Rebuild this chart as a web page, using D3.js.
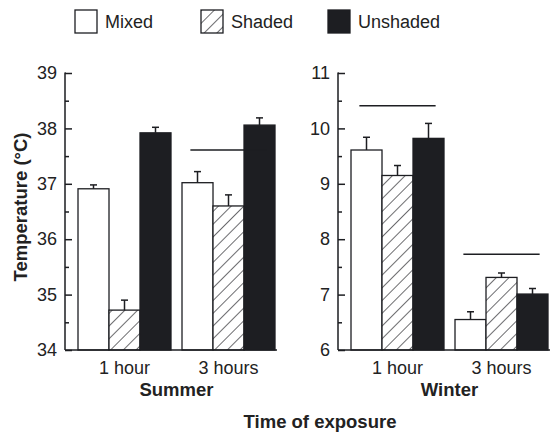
<!DOCTYPE html>
<html>
<head>
<meta charset="utf-8">
<script src="https://cdn.jsdelivr.net/npm/d3@7"></script>
<style>
  body { margin: 0; background: #fff; }
  text { font-family: "Liberation Sans", Arial, sans-serif; fill: #222; }
</style>
</head>
<body>
<svg width="550" height="432"></svg>
<script>
const series = ['Mixed', 'Shaded', 'Unshaded'];
const groups = ['1 hour', '3 hours'];

// mean values and upper error, per group, in series order
const summerValues = [[36.91, 34.72, 37.92], [37.02, 36.6, 38.06]];
const summerErrors = [[0.07, 0.18, 0.1], [0.2, 0.2, 0.13]];
const winterValues = [[9.61, 9.15, 9.82], [6.55, 7.31, 7.01]];
const winterErrors = [[0.23, 0.18, 0.27], [0.14, 0.08, 0.1]];

const summerTicks = [34, 35, 36, 37, 38, 39];
const winterTicks = [6, 7, 8, 9, 10, 11];

// horizontal marker lines: [group, value]
const summerLines = [['3 hours', 37.61]];
const winterLines = [['1 hour', 10.41], ['3 hours', 7.73]];

const ink = '#1d1e22';
const svg = d3.select('svg');

// hatch pattern for shaded
const pat = svg.append('defs').append('pattern')
    .attr('id', 'hatch')
    .attr('patternUnits', 'userSpaceOnUse')
    .attr('width', 9).attr('height', 9)
    .attr('patternTransform', 'rotate(45)');
pat.append('rect').attr('width', 9).attr('height', 9).attr('fill', '#fff');
pat.append('line')
    .attr('x1', 0).attr('y1', 0).attr('x2', 0).attr('y2', 9)
    .attr('stroke', ink).attr('stroke-width', 1.3);

const fills = { Mixed: '#fff', Shaded: 'url(#hatch)', Unshaded: ink };

const plotTop = 73, plotBottom = 350, panelW = 212;

function panel(x0, values, errors, ticks, lines, title) {
    const g = svg.append('g').attr('transform', `translate(${x0},0)`);

    const y = d3.scaleLinear()
        .domain([ticks[0], ticks[ticks.length - 1]])
        .range([plotBottom, plotTop]);
    const x = d3.scaleBand()
        .domain(groups)
        .range([0, panelW])
        .paddingInner(0.1058)
        .paddingOuter(0.0721)
        .align(0.867);
    const xs = d3.scaleBand()
        .domain(series)
        .range([0, x.bandwidth()]);

    // bars
    const grp = g.selectAll('.grp')
        .data(groups)
        .enter()
        .append('g')
        .attr('transform', d => `translate(${x(d)},0)`);

    const cells = grp.selectAll('.bar')
        .data((d, i) => series.map((s, j) => ({ s, v: values[i][j], e: errors[i][j] })))
        .enter();

    cells.append('rect')
        .attr('x', d => xs(d.s))
        .attr('width', xs.bandwidth())
        .attr('y', d => y(d.v))
        .attr('height', d => plotBottom - y(d.v))
        .attr('fill', d => fills[d.s])
        .attr('stroke', ink)
        .attr('stroke-width', 1.3);

    // error bars (upper only)
    cells.append('line')
        .attr('x1', d => xs(d.s) + xs.bandwidth() / 2)
        .attr('x2', d => xs(d.s) + xs.bandwidth() / 2)
        .attr('y1', d => y(d.v))
        .attr('y2', d => y(d.v + d.e))
        .attr('stroke', ink).attr('stroke-width', 1.5);
    cells.append('line')
        .attr('x1', d => xs(d.s) + xs.bandwidth() / 2 - 3.5)
        .attr('x2', d => xs(d.s) + xs.bandwidth() / 2 + 3.5)
        .attr('y1', d => y(d.v + d.e))
        .attr('y2', d => y(d.v + d.e))
        .attr('stroke', ink).attr('stroke-width', 1.5);

    // marker lines
    g.selectAll('.mark')
        .data(lines)
        .enter()
        .append('line')
        .attr('x1', d => x(d[0]) + x.bandwidth() * 0.09)
        .attr('x2', d => x(d[0]) + x.bandwidth() * 0.91)
        .attr('y1', d => y(d[1]))
        .attr('y2', d => y(d[1]))
        .attr('stroke', ink).attr('stroke-width', 1.5);

    // y axis, inward ticks
    const yAxis = g.append('g')
        .call(d3.axisLeft(y).tickValues(ticks).tickSize(-7).tickPadding(8).tickFormat(d3.format('d')));
    yAxis.selectAll('text').style('font-size', '18px').attr('fill', '#222');
    yAxis.selectAll('line, path').attr('stroke', ink).attr('stroke-width', 1.5);
    yAxis.select('.domain').attr('d', `M-0.5,${plotTop}H0V${plotBottom}`);

    const minor = ticks.slice(1).map(t => t - 0.5);
    const yMinor = g.append('g')
        .call(d3.axisLeft(y).tickValues(minor).tickSize(-4).tickFormat(''));
    yMinor.select('.domain').remove();
    yMinor.selectAll('line').attr('stroke', ink).attr('stroke-width', 1.5);

    // x axis
    const xAxis = g.append('g')
        .attr('transform', `translate(0,${plotBottom})`)
        .call(d3.axisBottom(x).tickSize(0).tickPadding(11));
    xAxis.select('.domain').attr('d', `M0,0H${panelW}`).attr('stroke', ink).attr('stroke-width', 1.5);
    xAxis.selectAll('text').style('font-size', '18px').attr('fill', '#222');

    g.append('text')
        .attr('x', (x(groups[0]) + x(groups[1]) + x.bandwidth()) / 2)
        .attr('y', 396)
        .attr('text-anchor', 'middle')
        .style('font-size', '18.5px')
        .style('font-weight', 'bold')
        .text(title);
}

panel(65, summerValues, summerErrors, summerTicks, summerLines, 'Summer');
panel(338, winterValues, winterErrors, winterTicks, winterLines, 'Winter');

// axis titles
svg.append('text')
    .attr('transform', 'translate(27,207) rotate(-90)')
    .attr('text-anchor', 'middle')
    .style('font-size', '18.5px')
    .style('font-weight', 'bold')
    .text('Temperature (°C)');

svg.append('text')
    .attr('x', 320)
    .attr('y', 428)
    .attr('text-anchor', 'middle')
    .style('font-size', '18.5px')
    .style('font-weight', 'bold')
    .text('Time of exposure');

// legend
const legendX = d3.scaleOrdinal().domain(series).range([75, 201, 328]);
const leg = svg.append('g').selectAll('.leg')
    .data(series)
    .enter()
    .append('g')
    .attr('transform', d => `translate(${legendX(d)},10)`);
leg.append('rect')
    .attr('width', 22).attr('height', 23)
    .attr('fill', d => fills[d])
    .attr('stroke', ink).attr('stroke-width', 1.3);
leg.append('text')
    .attr('x', 30).attr('y', 18)
    .style('font-size', '18px')
    .text(d => d);
</script>
</body>
</html>
